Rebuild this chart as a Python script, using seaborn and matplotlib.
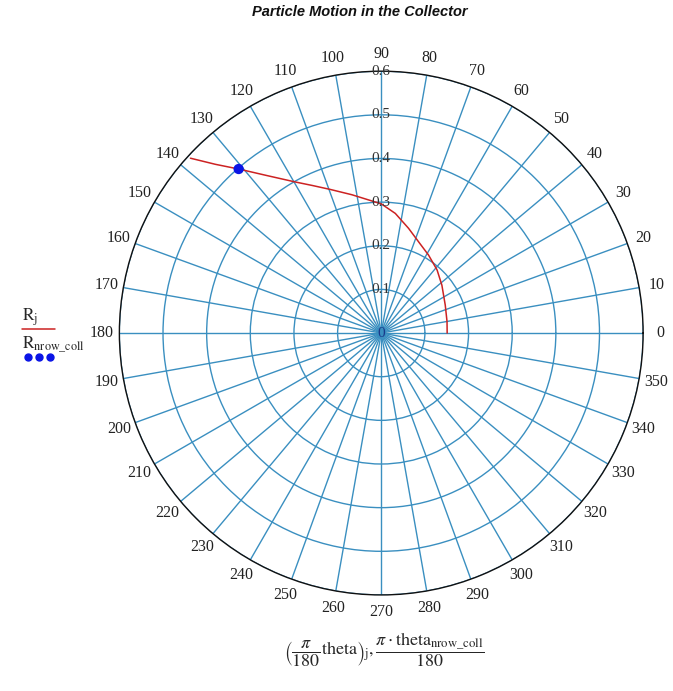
import numpy as np
import matplotlib
matplotlib.use('Agg')
import matplotlib.pyplot as plt
from matplotlib.lines import Line2D
import seaborn as sns

# particle path (theta in degrees, R in collector units)
theta_deg = [0, 10, 23.6, 38.3, 48.5, 58.8, 67.8, 75.4, 83.3, 90,
             102, 109.5, 115, 119.6, 126.1, 131, 134.5, 137.5]
R = [0.151, 0.153, 0.160, 0.177, 0.193, 0.209, 0.226, 0.248, 0.276, 0.296,
     0.324, 0.349, 0.373, 0.398, 0.447, 0.498, 0.542, 0.593]
# last row of the collector
theta_nrow = [131.0]
R_nrow = [0.498]

r_ticks = [0.1, 0.2, 0.3, 0.4, 0.5, 0.6]
r_labels = ['0.1', '0.2', '0.3', '0.4', '0.5', '0.6']
angle_ticks = list(range(0, 360, 10))

sns.set_style('white')
plt.rcParams['mathtext.fontset'] = 'stix'
grid_col = '#3a8fc0'

fig = plt.figure(figsize=(6.73, 6.91), dpi=100)
ax = fig.add_axes([0.177, 0.139, 0.779, 0.758], projection='polar')

sns.lineplot(x=np.radians(theta_deg), y=R, ax=ax, sort=False, color='#cc2222',
             linewidth=1.1, estimator=None)
sns.scatterplot(x=np.radians(theta_nrow), y=R_nrow, ax=ax, color='#0a14e6',
                s=55, edgecolor='none', zorder=5)
ax.set_xlabel('')
ax.set_ylabel('')

ax.set_ylim(0, 0.6)
ax.set_thetagrids(angle_ticks, [str(a) for a in angle_ticks],
                  fontfamily='Liberation Serif', fontsize=11.5, color='#222222')
ax.tick_params(axis='x', pad=2)
ax.set_rgrids(r_ticks, [''] * len(r_ticks))
ax.grid(True, color=grid_col, linewidth=1.0)
ax.spines['polar'].set_color('#111111')
ax.spines['polar'].set_linewidth(1.0)

for r, lab in zip(r_ticks, r_labels):
    ax.text(np.pi / 2, r, lab, ha='center', va='center', fontsize=11,
            family='Liberation Serif', color='#333333', zorder=6)
ax.text(0, 0, '0', ha='center', va='center', fontsize=11,
        family='Liberation Serif', color='#1a3a8a', zorder=6)

fig.text(360 / 673, 1 - 12 / 691, 'Particle Motion in the Collector', ha='center',
         va='center', fontsize=10.5, fontweight='bold', fontstyle='italic',
         family='Liberation Sans', color='#111111')

# legend on the left
fig.text(22 / 673, 1 - 317 / 691, r'$\mathrm{R_j}$', fontsize=12.5, va='center', ha='left')
fig.add_artist(Line2D([22 / 673, 55 / 673], [1 - 329 / 691, 1 - 329 / 691],
                      color='#cc2222', linewidth=1.1, transform=fig.transFigure))
fig.text(22 / 673, 1 - 345 / 691, r'$\mathrm{R_{nrow\_coll}}$', fontsize=12.5,
         va='center', ha='left')
fig.add_artist(Line2D([28 / 673, 39 / 673, 50 / 673], [1 - 357 / 691] * 3,
                      color='#0a14e6', linestyle='none', marker='o', markersize=5,
                      transform=fig.transFigure))

fig.text(384 / 673, 1 - 650 / 691,
         r'$\left(\dfrac{\pi}{180}\mathrm{theta}\right)_{\mathrm{j}},'
         r'\dfrac{\pi\cdot\mathrm{theta}_{\mathrm{nrow\_coll}}}{180}$',
         ha='center', va='center', fontsize=13)

fig.savefig('out.png', dpi=100)
